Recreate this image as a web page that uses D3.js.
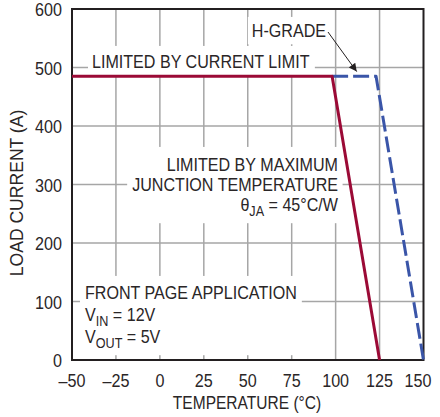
<!DOCTYPE html>
<html><head><meta charset="utf-8">
<script src="https://cdn.jsdelivr.net/npm/d3@7"></script>
<style>
body{margin:0;background:#fff}
text{font-family:"Liberation Sans",Arial,Helvetica,sans-serif;fill:#2a2627}
</style></head>
<body><svg id="c" width="440" height="417"></svg>
<script>
const xTicks = [-50,-25,0,25,50,75,100,125,150];
const xTickLabels = ["–50","–25","0","25","50","75","100","125","150"];
const yTicks = [0,100,200,300,400,500,600];
const tempStd = [-50, 98, 125];
const currStd = [485, 485, 0];
const tempH = [98, 123, 150];
const currH = [485, 485, 0];

const svg = d3.select("#c");
const m = {l:72, r:423.5, t:9, b:360};
const x = d3.scaleLinear().domain([-50,150]).range([m.l, m.r]);
const y = d3.scaleLinear().domain([0,600]).range([m.b, m.t]);

// condensed text helper
function ctext(parent, tx, ty, anchor, size, sx, rot){
  return parent.append("text")
    .attr("transform", `translate(${tx},${ty})` + (rot?` rotate(${rot})`:"") + ` scale(${sx},1)`)
    .attr("text-anchor", anchor).attr("font-size", size);
}

// gridlines
const grid = svg.append("g").attr("stroke","#a6a6a6").attr("stroke-width",1.5);
grid.selectAll(".vx").data(xTicks.slice(1,-1)).join("line")
  .attr("x1",d=>x(d)).attr("x2",d=>x(d)).attr("y1",y(600)).attr("y2",y(0));
grid.selectAll(".hy").data(yTicks.slice(1,-1)).join("line")
  .attr("y1",d=>y(d)).attr("y2",d=>y(d)).attr("x1",x(-50)).attr("x2",x(150));

// annotations with white backgrounds
const ann = svg.append("g");
const S = 0.87;
function block(lines, anchor, xx, baselines, padX, padY){
  const g = ann.append("g");
  const rect = g.append("rect").attr("fill","#fff");
  const t = g.append("g");
  lines.forEach((ln,i)=>{
    const te = ctext(t, xx, baselines[i], anchor, 18.5, S);
    ln.forEach(part=>{
      const ts = te.append("tspan").text(part.t);
      if(part.sub){ ts.attr("dy",5).attr("font-size",14.5); }
      else if(part.after){ ts.attr("dy",-5); }
    });
  });
  const bb = t.node().getBBox();
  rect.attr("x",bb.x-padX[0]).attr("y",bb.y-padY[0])
      .attr("width",bb.width+padX[0]+padX[1]).attr("height",bb.height+padY[0]+padY[1]);
  return g;
}
block([[{t:"H-GRADE"}]],"end",326,[37],[4,3],[3,3]);
block([[{t:"LIMITED BY CURRENT LIMIT"}]],"start",92,[68],[4,5],[5,3]);
block([[{t:"LIMITED BY MAXIMUM"}],[{t:"JUNCTION TEMPERATURE"}],[{t:"θ"},{t:"JA",sub:true},{t:" = 45°C/W",after:true}]],
  "end",338,[171,191,211],[5,4],[7,4]);
block([[{t:"FRONT PAGE APPLICATION"}],[{t:"V"},{t:"IN",sub:true},{t:" = 12V",after:true}],[{t:"V"},{t:"OUT",sub:true},{t:" = 5V",after:true}]],
  "start",85,[299,321,343],[5,5],[6,4]);

// arrow
svg.append("defs").append("marker").attr("id","ah").attr("viewBox","0 0 10 10")
  .attr("refX",10).attr("refY",5).attr("markerWidth",10).attr("markerHeight",8)
  .attr("orient","auto").attr("markerUnits","userSpaceOnUse")
  .append("path").attr("d","M0,0 L10,5 L0,10 z").attr("fill","#231f20");
svg.append("line").attr("x1",328).attr("y1",32).attr("x2",x(112)).attr("y2",y(493))
  .attr("stroke","#231f20").attr("stroke-width",1).attr("marker-end","url(#ah)");

// frame
svg.append("rect").attr("x",m.l).attr("y",m.t).attr("width",m.r-m.l).attr("height",m.b-m.t)
  .attr("fill","none").attr("stroke","#231f20").attr("stroke-width",2);

// curves
const line = d3.line().x(d=>x(d[0])).y(d=>y(d[1]));
svg.append("path").datum(tempH.map((t,i)=>[t,currH[i]])).attr("d",line)
  .attr("fill","none").attr("stroke","#3a55a8").attr("stroke-width",3)
  .attr("stroke-dasharray","16,5").attr("stroke-linejoin","round");
svg.append("path").datum(tempStd.map((t,i)=>[t,currStd[i]])).attr("d",line)
  .attr("fill","none").attr("stroke","#9b0a36").attr("stroke-width",3).attr("stroke-linejoin","round");

// tick labels
const gx = svg.append("g");
xTicks.forEach((d,i)=>{
  ctext(gx, Math.min(x(d), 418), 387, "middle", 19, 0.85).text(xTickLabels[i]);
});
const gy = svg.append("g");
yTicks.forEach(d=>{
  ctext(gy, 62, y(d)+7, "end", 19, 0.85).text(d);
});

// axis titles
ctext(svg, 247, 409, "middle", 18.5, 0.84).text("TEMPERATURE (°C)");
ctext(svg, 23, 193, "middle", 18.5, 0.95, -90).text("LOAD CURRENT (A)");
</script></body></html>
